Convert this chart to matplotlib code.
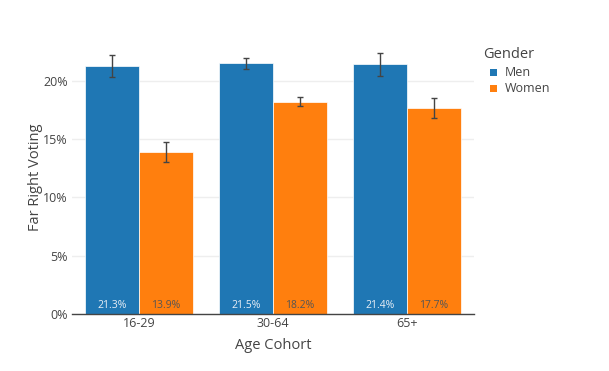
import matplotlib
matplotlib.use("Agg")
import matplotlib.pyplot as plt
import numpy as np
from matplotlib.ticker import FuncFormatter
from matplotlib.patches import Rectangle

categories = ["16-29", "30-64", "65+"]
men = [21.3, 21.5, 21.4]
women = [13.9, 18.2, 17.7]
men_err = [0.95, 0.45, 0.95]
women_err = [0.85, 0.4, 0.85]
series_names = ["Men", "Women"]
legend_title = "Gender"

plt.rcParams['font.family'] = ['Open Sans', 'DejaVu Sans']
W, H = 609, 371
fig = plt.figure(figsize=(W/100, H/100), dpi=100)
left, right, top, bottom = 72, 474, 40, 314
ax = fig.add_axes([left/W, 1-bottom/H, (right-left)/W, (bottom-top)/H])

x = np.arange(len(categories))
bw = 0.4
c_men, c_women = "#1f77b4", "#ff7f0e"
ecol = "#444444"
b1 = ax.bar(x - bw/2, men, bw, color=c_men, edgecolor="white", linewidth=0.5, zorder=2)
b2 = ax.bar(x + bw/2, women, bw, color=c_women, edgecolor="white", linewidth=0.5, zorder=2)
ax.errorbar(x - bw/2, men, yerr=men_err, fmt='none', ecolor=ecol, elinewidth=1.0, capsize=2, capthick=1.0, zorder=3)
ax.errorbar(x + bw/2, women, yerr=women_err, fmt='none', ecolor=ecol, elinewidth=1.0, capsize=2, capthick=1.0, zorder=3)

for xi, v in zip(x - bw/2, men):
    ax.text(xi, 0.69, f"{v:.1f}%", ha='center', va='center', fontsize=7.5, color="#e8eef5", zorder=4)
for xi, v in zip(x + bw/2, women):
    ax.text(xi, 0.69, f"{v:.1f}%", ha='center', va='center', fontsize=7.5, color="#555555", zorder=4)

ax.set_xlim(-0.5, 2.5)
ax.set_ylim(0, 23.5)
ax.set_yticks([0, 5, 10, 15, 20])
ax.yaxis.set_major_formatter(FuncFormatter(lambda v, p: f"{v:.0f}%"))
ax.set_xticks(x)
ax.set_xticklabels(categories)
ax.grid(axis='y', color="#eeeeee", linewidth=1, zorder=0)
ax.set_axisbelow(True)
for s in ['top', 'right', 'left']:
    ax.spines[s].set_visible(False)
ax.spines['bottom'].set_color("#444444")
ax.spines['bottom'].set_linewidth(1)
ax.tick_params(axis='both', length=0, labelsize=9, colors="#444444", pad=3)
ax.tick_params(axis='x', pad=2)
ax.set_ylabel("Far Right Voting", fontsize=10.5, color="#444444")
ax.yaxis.set_label_coords((43 - left) / (right - left), 0.5)
ax.set_xlabel("Age Cohort", fontsize=10.5, color="#444444", labelpad=6)

# legend drawn manually in pixel positions
def fx(px): return px / W
def fy(py): return 1 - py / H
fig.text(fx(483), fy(54), legend_title, fontsize=10.5, color="#444444", ha='left', va='center')
for i, (name, col) in enumerate(zip(series_names, [c_men, c_women])):
    yc = 72 + 16 * i
    fig.add_artist(Rectangle((fx(490), fy(yc + 3.5)), 7/W, 7/H, transform=fig.transFigure,
                             facecolor=col, edgecolor='none'))
    fig.text(fx(505), fy(yc), name, fontsize=9, color="#444444", ha='left', va='center')

fig.savefig("out.png", dpi=100)
